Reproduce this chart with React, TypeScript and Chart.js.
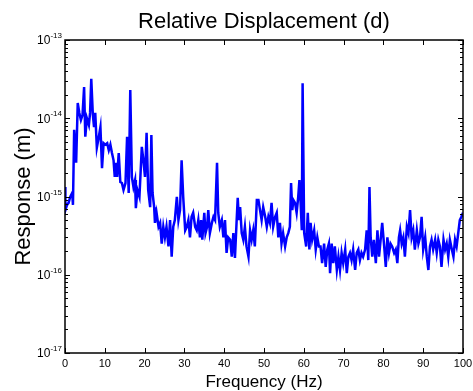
import React, { useEffect, useRef } from "react";
import { Chart, registerables } from "chart.js";

Chart.register(...registerables);

const titleText = "Relative Displacement (d)";
const xAxisTitle = "Frequency (Hz)";
const yAxisTitle = "Response (m)";
const xTickValues = [0, 10, 20, 30, 40, 50, 60, 70, 80, 90, 100];
const yDecadeExponents = [-17, -16, -15, -14, -13];

const frequencies = [
  0, 0.1, 0.5, 0.9, 1.3, 1.8, 2.0, 2.3, 2.8, 3.2,
  3.6, 4.0, 4.4, 4.8, 5.1, 5.5, 6.0, 6.3, 6.6, 7.0,
  7.3, 7.6, 8.0, 8.5, 8.9, 9.3, 9.7, 10.1, 10.6, 11.0,
  11.4, 11.8, 12.2, 12.5, 12.8, 13.1, 13.5, 13.9, 14.3, 14.7,
  15.2, 15.6, 16.0, 16.4, 16.8, 17.2, 17.6, 17.8, 18.2, 18.7,
  19.3, 19.7, 20.1, 20.5, 20.9, 21.4, 21.7, 22.0, 22.4, 22.6,
  23.0, 23.5, 23.9, 24.3, 24.7, 25.1, 25.5, 26.0, 26.4, 26.8,
  27.2, 27.6, 28.1, 28.5, 28.9, 29.3, 29.7, 30.2, 30.6, 31.0,
  31.4, 31.8, 32.2, 32.7, 33.1, 33.5, 33.9, 34.2, 34.5, 35.0,
  35.3, 35.7, 36.0, 36.4, 36.9, 37.3, 37.7, 38.2, 38.5, 38.9,
  39.4, 39.8, 40.2, 40.6, 41.0, 41.5, 41.9, 42.3, 42.7, 43.1,
  43.4, 43.7, 44.0, 44.4, 44.8, 45.2, 45.6, 46.1, 46.5, 46.9,
  47.3, 47.7, 48.2, 48.6, 49.0, 49.4, 49.8, 50.3, 50.7, 51.1,
  51.5, 51.9, 52.3, 52.8, 53.2, 53.6, 54.0, 54.4, 54.8, 55.3,
  55.7, 56.1, 56.5, 56.8, 57.1, 57.4, 57.8, 58.2, 58.6, 58.9,
  59.2, 59.5, 59.7, 60.1, 60.6, 61.0, 61.4, 61.7, 62.1, 62.6,
  63.0, 63.4, 63.8, 64.2, 64.6, 65.1, 65.5, 65.9, 66.3, 66.6,
  67.0, 67.4, 67.8, 68.3, 68.7, 69.1, 69.5, 69.9, 70.4, 70.8,
  71.2, 71.6, 72.0, 72.4, 72.9, 73.3, 73.7, 74.1, 74.5, 74.9,
  75.4, 75.8, 76.2, 76.5, 76.8, 77.2, 77.6, 78.1, 78.5, 78.9,
  79.3, 79.7, 80.2, 80.6, 81.0, 81.4, 81.8, 82.2, 82.7, 83.1,
  83.5, 83.9, 84.2, 84.6, 85.0, 85.4, 85.9, 86.3, 86.7, 87.1,
  87.5, 87.9, 88.4, 88.8, 89.2, 89.6, 90.0, 90.5, 90.9, 91.3,
  91.7, 92.1, 92.5, 93.0, 93.4, 93.8, 94.2, 94.6, 95.1, 95.5,
  95.9, 96.3, 96.7, 97.2, 97.6, 98.0, 98.4, 98.8, 99.2, 99.6,
  100.0,
];

const responses = [
  1.32e-15, 6.7e-16, 7.8e-16, 8.3e-16, 9.9e-16, 1.11e-15, 7.8e-16, 7.1e-15, 2.7e-15, 1.57e-14,
  1.17e-14, 9.5e-15, 1.1e-14, 2.5e-14, 5.8e-15, 1.0e-14, 8.2e-15, 1.17e-14, 3.2e-14, 1.1e-14,
  7.7e-15, 1.17e-14, 4.2e-15, 5.8e-15, 7.7e-15, 2.3e-15, 4.8e-15, 4.6e-15, 4.8e-15, 3.9e-15,
  4.6e-15, 3.6e-15, 2.9e-15, 1.78e-15, 2.7e-15, 1.78e-15, 3.6e-15, 1.53e-15, 1.49e-15, 1.21e-15,
  1.49e-15, 5.8e-15, 1.11e-15, 2.3e-14, 1.78e-15, 1.32e-15, 1.62e-15, 7.1e-16, 1.21e-15, 9.9e-16,
  4.3e-15, 2.9e-15, 1.78e-15, 6.5e-15, 1.21e-15, 7.3e-16, 6.1e-15, 1.11e-15, 7.3e-16, 4.6e-16,
  6.2e-16, 4.1e-16, 4.6e-16, 2.5e-16, 4.1e-16, 3.0e-16, 4.1e-16, 2.3e-16, 5.0e-16, 1.7e-16,
  4.1e-16, 5.0e-16, 9.9e-16, 5.0e-16, 6.7e-16, 2.9e-15, 9.9e-16, 3.7e-16, 4.1e-16, 5.0e-16,
  3.0e-16, 5.5e-16, 6.2e-16, 4.1e-16, 3.7e-16, 5.0e-16, 3.0e-16, 5.0e-16, 2.8e-16, 6.2e-16,
  3.4e-16, 4.1e-16, 6.7e-16, 3.4e-16, 4.6e-16, 5.5e-16, 5.0e-16, 2.7e-15, 6.2e-16, 4.1e-16,
  5.0e-16, 3.0e-16, 5.0e-16, 1.9e-16, 3.0e-16, 2.8e-16, 1.7e-16, 3.4e-16, 1.64e-16, 4.6e-16,
  9.6e-16, 5.0e-16, 7.3e-16, 3.4e-16, 2.8e-16, 4.1e-16, 2.3e-16, 1.7e-16, 3.7e-16, 2.8e-16,
  3.7e-16, 2.3e-16, 9.0e-16, 9.0e-16, 6.7e-16, 5.0e-16, 7.3e-16, 5.5e-16, 4.1e-16, 5.5e-16,
  4.6e-16, 8.3e-16, 4.1e-16, 5.5e-16, 6.2e-16, 3.0e-16, 4.6e-16, 2.5e-16, 3.4e-16, 2.3e-16,
  3.0e-16, 3.4e-16, 4.1e-16, 1.49e-15, 6.7e-16, 9.0e-16, 8.3e-16, 6.2e-16, 9.9e-16, 1.62e-15,
  8.3e-16, 3.7e-16, 2.8e-14, 3.4e-16, 2.3e-16, 6.2e-16, 2.1e-16, 4.6e-16, 2.8e-16, 3.7e-16,
  2.1e-16, 3.0e-16, 2.3e-16, 2.3e-16, 1.41e-16, 2.5e-16, 1.26e-16, 2.1e-16, 2.5e-16, 1.05e-16,
  2.5e-16, 1.41e-16, 2.3e-16, 1.15e-16, 1.7e-16, 1.15e-16, 1.9e-16, 1.41e-16, 2.1e-16, 1.05e-16,
  1.7e-16, 1.9e-16, 1.54e-16, 2.1e-16, 1.15e-16, 1.9e-16, 2.1e-16, 1.54e-16, 1.9e-16, 1.7e-16,
  2.1e-16, 3.7e-16, 1.54e-16, 1.32e-15, 3.0e-16, 1.7e-16, 2.8e-16, 1.41e-16, 3.7e-16, 1.7e-16,
  2.8e-16, 4.6e-16, 2.3e-16, 1.26e-16, 3.0e-16, 1.9e-16, 2.5e-16, 2.3e-16, 1.9e-16, 2.1e-16,
  1.41e-16, 3.0e-16, 3.7e-16, 2.5e-16, 3.0e-16, 1.7e-16, 4.1e-16, 3.4e-16, 6.7e-16, 3.0e-16,
  3.7e-16, 2.1e-16, 3.7e-16, 2.5e-16, 3.0e-16, 5.5e-16, 2.1e-16, 3.0e-16, 1.7e-16, 1.15e-16,
  2.3e-16, 2.8e-16, 2.1e-16, 2.8e-16, 1.9e-16, 2.8e-16, 2.3e-16, 1.26e-16, 2.8e-16, 2.1e-16,
  2.5e-16, 1.7e-16, 2.8e-16, 2.1e-16, 1.7e-16, 2.8e-16, 2.3e-16, 3.4e-16, 5.0e-16, 5.5e-16,
  6.2e-16,
];

const FONT = '"Liberation Sans", Arial, Helvetica, sans-serif';

export default function App() {
  const canvasRef = useRef<HTMLCanvasElement | null>(null);

  useEffect(() => {
    const canvas = canvasRef.current;
    if (!canvas) return;

    const framePlugin = {
      id: "matlabFrame",
      afterDraw(chart: any) {
        const { ctx, chartArea: a, scales } = chart;
        const xs = scales.x;
        const ys = scales.y;
        ctx.save();
        ctx.strokeStyle = "#000";
        ctx.lineWidth = 1;
        ctx.beginPath();
        for (const v of xTickValues) {
          const px = Math.round(xs.getPixelForValue(v)) + 0.5;
          ctx.moveTo(px, a.bottom);
          ctx.lineTo(px, a.bottom - 5);
          ctx.moveTo(px, a.top);
          ctx.lineTo(px, a.top + 5);
        }
        for (let i = 0; i < yDecadeExponents.length; i++) {
          const e = yDecadeExponents[i];
          const py = Math.round(ys.getPixelForValue(Math.pow(10, e))) + 0.5;
          ctx.moveTo(a.left, py);
          ctx.lineTo(a.left + 5, py);
          ctx.moveTo(a.right, py);
          ctx.lineTo(a.right - 5, py);
          if (i < yDecadeExponents.length - 1) {
            for (let m = 2; m <= 9; m++) {
              const pm = Math.round(ys.getPixelForValue(m * Math.pow(10, e))) + 0.5;
              ctx.moveTo(a.left, pm);
              ctx.lineTo(a.left + 3, pm);
              ctx.moveTo(a.right, pm);
              ctx.lineTo(a.right - 3, pm);
            }
          }
        }
        ctx.stroke();

        ctx.lineWidth = 1.5;
        ctx.strokeRect(a.left, a.top, a.right - a.left, a.bottom - a.top);

        ctx.fillStyle = "#000";
        // x tick labels
        ctx.font = `11px ${FONT}`;
        ctx.textAlign = "center";
        ctx.textBaseline = "middle";
        for (const v of xTickValues) {
          ctx.fillText(String(v), xs.getPixelForValue(v), a.bottom + 11);
        }
        // y tick labels: 10^e
        for (const e of yDecadeExponents) {
          const py = ys.getPixelForValue(Math.pow(10, e));
          ctx.font = `8px ${FONT}`;
          ctx.textAlign = "left";
          ctx.textBaseline = "alphabetic";
          const sup = String(e);
          const supW = ctx.measureText(sup).width;
          const supX = a.left - 3 - supW;
          ctx.fillText(sup, supX, py - 2);
          ctx.font = `12px ${FONT}`;
          ctx.textAlign = "right";
          ctx.textBaseline = "middle";
          ctx.fillText("10", supX, py + 1);
        }
        // title
        const cx = (a.left + a.right) / 2;
        ctx.font = `22px ${FONT}`;
        ctx.textAlign = "center";
        ctx.textBaseline = "alphabetic";
        ctx.fillText(titleText, cx, 28);
        // x title
        ctx.font = `17px ${FONT}`;
        ctx.fillText(xAxisTitle, cx, 387);
        // y title
        ctx.save();
        ctx.translate(24, (a.top + a.bottom) / 2);
        ctx.rotate(-Math.PI / 2);
        ctx.font = `22px ${FONT}`;
        ctx.textAlign = "center";
        ctx.textBaseline = "middle";
        ctx.fillText(yAxisTitle, 0, 0);
        ctx.restore();

        ctx.restore();
      },
    };

    const chart = new Chart(canvas, {
      type: "line",
      data: {
        datasets: [
          {
            data: frequencies.map((f, i) => ({ x: f, y: responses[i] })),
            borderColor: "#0000ff",
            borderWidth: 2.5,
            pointRadius: 0,
            fill: false,
            tension: 0,
          },
        ],
      },
      options: {
        responsive: false,
        animation: false,
        devicePixelRatio: 1,
        layout: { padding: { left: 65, right: 10, top: 40, bottom: 38 } },
        plugins: {
          legend: { display: false },
          tooltip: { enabled: false },
          title: { display: false },
        },
        scales: {
          x: {
            type: "linear",
            min: 0,
            max: 100,
            ticks: { display: false },
            grid: { display: false },
            border: { display: false },
            afterFit: (s: any) => {
              s.height = 0;
              s.paddingLeft = 0;
              s.paddingRight = 0;
            },
          },
          y: {
            type: "logarithmic",
            min: 1e-17,
            max: 1e-13,
            ticks: { display: false },
            grid: { display: false },
            border: { display: false },
            afterFit: (s: any) => {
              s.width = 0;
              s.paddingTop = 0;
              s.paddingBottom = 0;
            },
          },
        },
      },
      plugins: [framePlugin],
    } as any);

    return () => chart.destroy();
  }, []);

  return (
    <div style={{ position: "fixed", left: 0, top: 0, width: 473, height: 391, background: "#fff" }}>
      <canvas ref={canvasRef} width={473} height={391} style={{ width: 473, height: 391 }} />
    </div>
  );
}
